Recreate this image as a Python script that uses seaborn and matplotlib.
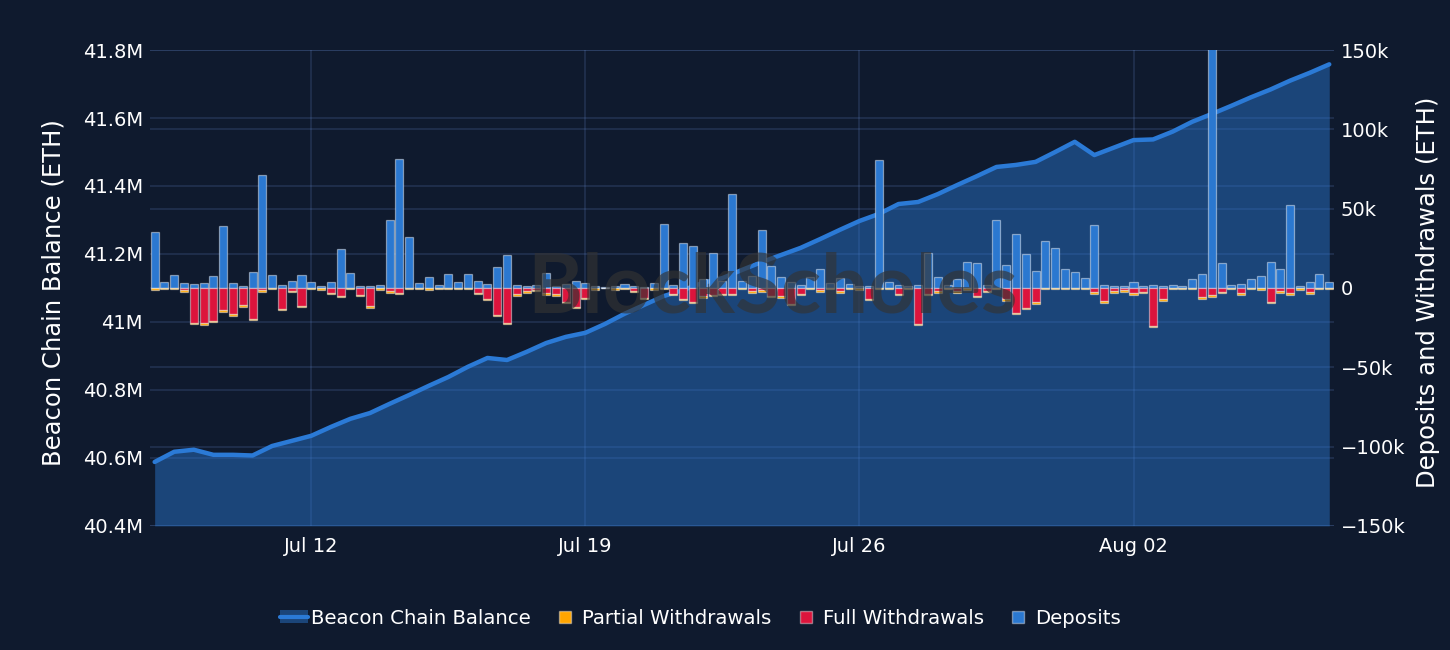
"""
Beacon chain balance vs. deposits / withdrawals (6h buckets)
"""

import pandas as pd
import numpy as np
import matplotlib
matplotlib.use("Agg")
import matplotlib.pyplot as plt
import matplotlib.dates as mdates
from matplotlib.ticker import FuncFormatter, MultipleLocator
from matplotlib.patches import Patch
from matplotlib.lines import Line2D
from matplotlib.legend_handler import HandlerTuple
import seaborn as sns


# balance, every 12h, in million ETH
balance = [
    40.588, 40.618, 40.624, 40.609, 40.609, 40.607, 40.635, 40.650, 40.665, 40.691,
    40.715, 40.732, 40.759, 40.785, 40.812, 40.838, 40.868, 40.894, 40.888, 40.912,
    40.938, 40.956, 40.968, 40.994, 41.024, 41.050, 41.076, 41.094, 41.115, 41.129,
    41.153, 41.176, 41.197, 41.218, 41.244, 41.271, 41.297, 41.318, 41.347, 41.353,
    41.376, 41.403, 41.429, 41.456, 41.462, 41.471, 41.500, 41.530, 41.491, 41.513,
    41.535, 41.537, 41.560, 41.589, 41.612, 41.636, 41.661, 41.684, 41.710, 41.733,
    41.758,
]

# flows, every 6h, in thousand ETH
deposits = [
    35.3, 3.6, 8.0, 3.2, 2.7, 3.0, 7.6, 38.9, 3.2, 1.5,
    10.0, 71.0, 8.0, 1.7, 4.6, 8.4, 4.0, 1.5, 3.6, 24.4,
    9.7, 1.0, 1.3, 1.7, 42.8, 81.0, 32.0, 3.0, 7.0, 2.0,
    8.6, 3.8, 8.8, 4.2, 2.7, 13.4, 20.8, 2.0, 1.0, 1.7,
    9.5, 1.0, 2.3, 4.2, 3.2, 1.2, 0.3, 1.5, 2.5, 1.0,
    0.6, 3.2, 40.5, 1.9, 28.4, 26.3, 5.7, 22.0, 4.2, 59.5,
    4.2, 7.4, 36.6, 13.7, 7.0, 3.6, 2.0, 7.0, 12.2, 3.2,
    6.3, 2.5, 1.5, 1.0, 80.5, 3.6, 1.9, 1.0, 1.7, 22.0,
    7.0, 1.9, 5.7, 16.6, 15.8, 1.9, 42.6, 14.5, 34.0, 21.4,
    10.7, 29.6, 25.0, 12.0, 9.9, 6.3, 40.0, 1.9, 1.3, 1.0,
    3.6, 1.0, 1.7, 1.5, 2.1, 1.5, 5.7, 9.0, 160.0, 15.8,
    1.7, 2.7, 5.7, 7.4, 16.2, 12.0, 52.3, 1.3, 4.0, 8.8,
    3.8,
]

full_withdrawals = [
    0.0, 0.0, 0.0, 1.5, 22.0, 22.0, 20.8, 14.0, 16.4, 11.0,
    19.5, 1.5, 0.0, 13.4, 1.7, 11.3, 0.0, 0.0, 3.0, 4.8,
    0.0, 4.4, 11.5, 0.0, 2.0, 3.0, 0.0, 0.0, 0.0, 0.0,
    0.0, 0.0, 0.0, 3.0, 6.7, 16.8, 22.0, 4.0, 2.0, 1.0,
    3.4, 4.0, 8.8, 11.8, 6.3, 0.0, 0.0, 0.0, 0.0, 2.0,
    6.3, 0.0, 0.0, 3.6, 6.7, 8.8, 5.3, 4.2, 3.6, 3.6,
    0.0, 2.0, 1.5, 4.8, 5.3, 10.0, 3.6, 0.0, 1.5, 0.0,
    2.0, 0.0, 0.0, 7.0, 0.0, 0.0, 3.6, 0.0, 22.7, 3.6,
    2.0, 0.0, 2.0, 0.0, 4.8, 2.0, 0.0, 7.0, 15.5, 12.6,
    9.0, 0.0, 0.0, 0.0, 0.0, 0.0, 2.5, 8.4, 2.0, 1.0,
    3.2, 2.5, 23.7, 7.0, 0.0, 0.0, 0.0, 5.7, 4.5, 2.5,
    0.0, 3.2, 0.0, 0.0, 8.8, 2.0, 3.2, 0.0, 2.7, 0.0,
    0.0,
]

partial_withdrawals = [
    1.0, 0.9, 0.8, 1.0, 1.0, 1.1, 0.9, 1.0, 1.0, 0.9,
    0.8, 1.0, 0.9, 0.8, 1.0, 1.0, 0.9, 1.2, 1.0, 1.0,
    0.8, 0.9, 0.9, 1.0, 1.0, 1.0, 0.8, 0.9, 1.0, 0.8,
    0.8, 0.7, 0.8, 1.0, 1.0, 0.9, 1.0, 1.0, 0.9, 0.8,
    0.9, 1.0, 1.0, 1.0, 0.9, 1.0, 0.3, 1.0, 0.8, 0.8,
    0.9, 1.1, 0.9, 1.0, 1.0, 0.9, 1.0, 0.8, 0.9, 1.0,
    0.8, 1.0, 0.9, 1.0, 1.0, 0.9, 1.0, 0.9, 0.9, 0.8,
    1.0, 0.9, 1.4, 0.9, 0.8, 0.9, 1.0, 0.8, 0.9, 1.0,
    0.9, 0.9, 1.0, 1.2, 1.0, 0.8, 0.8, 1.0, 1.0, 0.9,
    1.0, 0.8, 0.8, 0.8, 0.9, 0.8, 1.0, 0.9, 0.9, 1.3,
    1.0, 0.9, 1.0, 1.0, 0.9, 0.8, 0.9, 1.0, 1.0, 0.9,
    0.8, 1.0, 0.8, 1.0, 1.0, 0.9, 1.0, 1.0, 1.0, 0.8,
    0.8,
]

balance_times = pd.date_range("2025-07-08", periods=len(balance), freq="12h")
flow_times = pd.date_range("2025-07-08", periods=len(deposits), freq="6h")

BG = "#0f1a2e"
GRID = (0.45, 0.6, 0.9)
GRID_A = 0.2
LINE = "#2b7ad6"
DEP = "#2b78d0"
FULL = "#dc143c"
PART = "#ffa500"
TXT = "white"

sns.set_theme(style="dark")
plt.rcParams["font.family"] = ["DejaVu Sans"]

fig, ax1 = plt.subplots(figsize=(14.5, 6.5), dpi=100)
fig.patch.set_facecolor(BG)
ax1.set_facecolor(BG)
fig.subplots_adjust(left=0.1034, right=0.92, top=0.923, bottom=0.191)

# balance area + line
df_bal = pd.DataFrame({"time": balance_times, "balance": balance})
ax1.fill_between(df_bal["time"], df_bal["balance"], 40.4, color=LINE, alpha=0.45,
                 lw=0, zorder=1)
sns.lineplot(data=df_bal, x="time", y="balance", ax=ax1, color=LINE, lw=3.2, zorder=2)

ax1.set_ylim(40.4, 41.8)
ax1.yaxis.set_major_locator(MultipleLocator(0.2))
ax1.yaxis.set_major_formatter(FuncFormatter(lambda v, _: f"{round(v, 1):g}M"))
ax1.set_ylabel("Beacon Chain Balance (ETH)", color=TXT, fontsize=17.5)
ax1.yaxis.set_label_coords(-0.071, 0.49)
ax1.set_xlabel("")

# flows on right axis
ax2 = ax1.twinx()
w = 0.205
edge = dict(edgecolor=(1, 1, 1, 0.45), linewidth=0.9)
neg_full = [-v for v in full_withdrawals]
neg_part = [-v for v in partial_withdrawals]
ax2.bar(flow_times, deposits, width=w, color=DEP, zorder=3, **edge)
ax2.bar(flow_times, neg_full, width=w, color=FULL, zorder=3, **edge)
ax2.bar(flow_times, neg_part, bottom=neg_full, width=w, color=PART, zorder=3, **edge)

ax2.set_ylim(-150, 150)
ax2.yaxis.set_major_locator(MultipleLocator(50))
ax2.yaxis.set_major_formatter(
    FuncFormatter(lambda v, _: "0" if abs(v) < 1e-9 else f"{int(v)}k".replace("-", "\u2212"))
)
ax2.set_ylabel("Deposits and Withdrawals (ETH)", color=TXT, fontsize=17.5)
ax2.yaxis.set_label_coords(1.069, 0.49)

# x axis
x0 = flow_times[0] - pd.Timedelta(hours=2.9)
x1 = flow_times[-1] + pd.Timedelta(hours=2.9)
ax1.set_xlim(x0, x1)
ax1.xaxis.set_major_locator(mdates.DayLocator(bymonthday=[12, 19, 26, 2]))
ax1.xaxis.set_major_formatter(mdates.DateFormatter("%b %d"))

for ax in (ax1, ax2):
    for s in ax.spines.values():
        s.set_visible(False)
    ax.tick_params(colors=TXT, labelsize=14, length=0, pad=5)
ax1.tick_params(axis="x", pad=8)
ax1.grid(True, color=GRID, alpha=GRID_A, lw=1.1)
ax2.grid(False)
ax2.patch.set_visible(False)

# right-axis gridlines drawn beneath the balance trace (like the left ones)
lo, hi = ax2.get_ylim()
for t in ax2.get_yticks():
    if lo <= t <= hi:
        frac = (t - lo) / (hi - lo)
        ax1.plot([0, 1], [frac, frac], transform=ax1.transAxes, color=GRID,
                 alpha=GRID_A, lw=1.1, zorder=0.5)

# watermark
fig.text(0.533, 0.555, "BlockScholes", fontsize=60, fontweight="bold",
         family=["Lato", "DejaVu Sans"], color="#333333", alpha=0.65,
         ha="center", va="center", zorder=10)

# legend
sq = dict(marker="s", ls="none", markersize=9, markeredgecolor=(1, 1, 1, 0.4))
handles = [
    (Patch(facecolor=LINE, alpha=0.45, edgecolor="none"), Line2D([], [], color=LINE, lw=3)),
    Line2D([], [], markerfacecolor=PART, **sq),
    Line2D([], [], markerfacecolor=FULL, **sq),
    Line2D([], [], markerfacecolor=DEP, **sq),
]
labels = ["Beacon Chain Balance", "Partial Withdrawals", "Full Withdrawals", "Deposits"]
leg = fig.legend(handles, labels, loc="center", bbox_to_anchor=(0.483, 0.049), ncol=4,
                 frameon=False, fontsize=14.2, labelcolor=TXT, handlelength=1.45,
                 handleheight=0.6, handletextpad=0.15, columnspacing=1.0,
                 handler_map={tuple: HandlerTuple(ndivide=1)})

plt.savefig("out.png", dpi=100, facecolor=BG)
